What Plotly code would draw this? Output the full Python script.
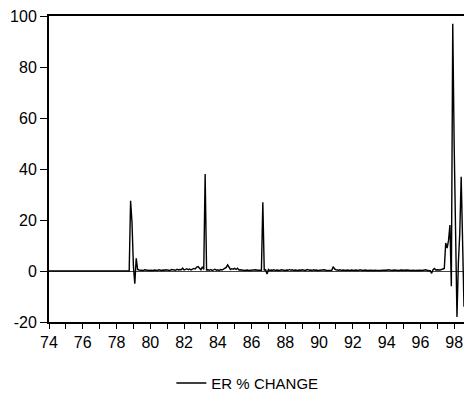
import plotly.graph_objects as go

START_YEAR = 1974
series_name = "ER % CHANGE"

# Monthly ER % change, 1974M01 onward
y1974 = [0, 0, 0, 0, 0, 0, 0, 0, 0, 0, 0, 0]
y1975 = [0, 0, 0, 0, 0, 0, 0, 0, 0, 0, 0, 0]
y1976 = [0, 0, 0, 0, 0, 0, 0, 0, 0, 0, 0, 0]
y1977 = [0, 0, 0, 0, 0, 0, 0, 0, 0, 0, 0, 0]
y1978 = [0, 0, 0, 0, 0, 0, 0, 0, 0, 0, 27.5, 19]
y1979 = [2, -5, 5, 0.6, 0.4, 0.3, 0.4, 0.2, 0.5, 0.3, 0.4, 0.2]
y1980 = [0.3, 0.1, 0.2, 0.4, 0.3, 0.2, 0.5, 0.3, 0.2, 0.4, 0.3, 0.5]
y1981 = [0.3, 0.4, 0.2, 0.6, 0.4, 0.5, 0.3, 0.7, 0.4, 0.6, 0.5, 1.1]
y1982 = [0.4, 0.6, 0.9, 0.5, 0.8, 0.4, 0.6, 1.0, 0.8, 1.5, 1.7, 1.2]
y1983 = [0.5, 1.6, 0.6, 38, 0.4, 0.5, 0.3, 0.6, 0.2, 0.4, 0.7, 0.3]
y1984 = [0.5, 0.2, 0.6, 0.4, 0.8, 1.0, 1.4, 2.4, 1.3, 0.6, 0.9, 0.7]
y1985 = [1.0, 0.6, 1.1, 0.4, 0.5, 0.3, 0.4, 0.2, 0.3, 0.4, 0.2, 0.3]
y1986 = [0.4, 0.2, 0.3, 0.5, 0.3, 0.2, 0.4, 0.3, 27, 0.4, 0.5, -1.2]
y1987 = [0.6, 0.2, 0.4, 0.3, 0.5, 0.2, 0.4, 0.3, 0.2, 0.5, 0.3, 0.4]
y1988 = [0.2, 0.4, 0.3, 0.6, 0.3, 0.5, 0.2, 0.4, 0.3, 0.2, 0.4, 0.3]
y1989 = [0.5, 0.3, 0.2, 0.4, 0.6, 0.3, 0.4, 0.2, 0.5, 0.3, 0.4, 0.2]
y1990 = [0.3, 0.4, 0.2, 0.3, 0.5, 0.2, 0.3, 0.4, 0.2, 0.3, 1.7, 0.8]
y1991 = [0.5, 0.4, 0.3, 0.5, 0.2, 0.4, 0.3, 0.2, 0.4, 0.3, 0.2, 0.4]
y1992 = [0.3, 0.2, 0.4, 0.3, 0.2, 0.5, 0.3, 0.2, 0.3, 0.4, 0.2, 0.3]
y1993 = [0.2, 0.3, 0.2, 0.4, 0.3, 0.2, 0.1, 0.3, 0.2, 0.3, 0.2, 0.1]
y1994 = [0.3, 0.5, 0.4, 0.3, 0.2, 0.4, 0.3, 0.2, 0.3, 0.2, 0.4, 0.3]
y1995 = [0.2, 0.3, 0.4, 0.2, 0.3, 0.2, 0.4, 0.3, 0.2, 0.3, 0.2, 0.4]
y1996 = [0.3, 0.2, 0.4, 0.3, 0.5, 0.2, 0.3, 0.1, -0.9, 0.5, 1.0, 0.4]
y1997 = [0.5, 0.3, 0.4, 0.6, 0.8, 1.0, 11, 9, 12, 18, -6, 97]
y1998 = [50, 8, -18, 3, 15, 37, 12, -14]

years = [y1974, y1975, y1976, y1977, y1978, y1979, y1980, y1981, y1982,
         y1983, y1984, y1985, y1986, y1987, y1988, y1989, y1990, y1991,
         y1992, y1993, y1994, y1995, y1996, y1997, y1998]

tick_years = [1974, 1976, 1978, 1980, 1982, 1984, 1986, 1988, 1990,
              1992, 1994, 1996, 1998]
tick_labels = ["74", "76", "78", "80", "82", "84", "86", "88", "90",
               "92", "94", "96", "98"]
y_ticks = [-20, 0, 20, 40, 60, 80, 100]
y_tick_labels = ["-20", "0", "20", "40", "60", "80", "100"]

values = []
for yr in years:
    values.extend(yr)
t = [START_YEAR + i / 12 for i in range(len(values))]

FONT = "Liberation Sans, Arial, sans-serif"

fig = go.Figure()
fig.add_trace(go.Scatter(
    x=t, y=values, mode="lines", name=series_name,
    line=dict(color="black", width=1.4),
    showlegend=True,
))

fig.update_layout(
    width=464, height=400,
    margin=dict(l=49, r=0, t=16, b=70),
    paper_bgcolor="white", plot_bgcolor="white",
    font=dict(family=FONT, size=16, color="black"),
    showlegend=True,
    legend=dict(
        orientation="h", x=0.478, xanchor="center", y=-0.2, yanchor="middle",
        font=dict(family=FONT, size=15, color="black"),
        bgcolor="rgba(0,0,0,0)", itemwidth=30,
    ),
    xaxis=dict(
        range=[t[0], t[-1]],
        tickvals=tick_years, ticktext=tick_labels,
        ticks="outside", ticklen=5, tickwidth=1, tickcolor="black",
        minor=dict(dtick=1, tick0=1974, ticks="outside", ticklen=5,
                   tickwidth=1, tickcolor="black", showgrid=False),
        showline=True, linecolor="black", linewidth=2, mirror=True,
        showgrid=False, zeroline=False,
        tickfont=dict(size=16),
    ),
    yaxis=dict(
        range=[-20, 100], tickvals=y_ticks, ticktext=y_tick_labels,
        ticks="outside", ticklen=7, tickwidth=1, tickcolor="black",
        showline=True, linecolor="black", linewidth=2, mirror=False,
        showgrid=False,
        zeroline=True, zerolinecolor="#444", zerolinewidth=1,
        tickfont=dict(size=16),
    ),
)

fig.write_html("out.html")
